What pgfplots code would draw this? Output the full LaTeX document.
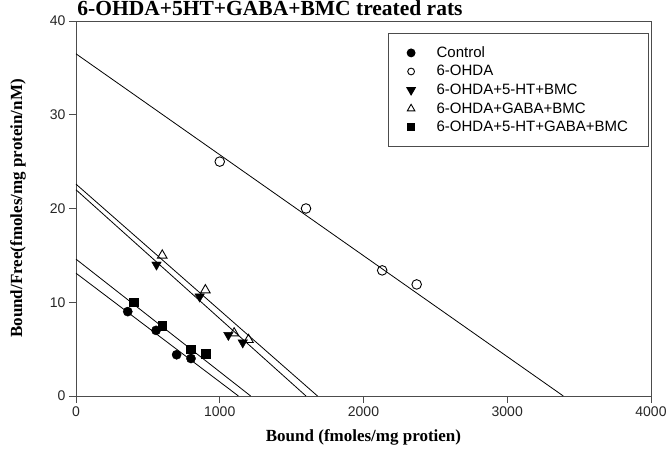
\documentclass[border=0pt]{standalone}
\usepackage{pgfplots}
\pgfplotsset{compat=1.18}
\usepackage{fontspec}
\setmainfont{Liberation Serif}
\newfontfamily\arial{Liberation Sans}
\begin{document}
\begin{tikzpicture}
\begin{axis}[
  scale only axis, width=575pt, height=375pt,
  at={(0pt,0pt)}, anchor=south west,
  xmin=0, xmax=4000, ymin=0, ymax=40,
  xtick={0,1000,2000,3000,4000}, ytick={0,10,20,30,40},
  tick align=outside, tick pos=left,
  major tick length=7pt,
  axis line style={black!70, line width=0.9pt},
  every tick/.style={black!70, line width=0.9pt},
  ticklabel style={font=\arial\fontsize{14}{16}\selectfont, text=black!85},
  /pgf/number format/assume math mode=true,
  scaled x ticks=false,
  x tick label style={/pgf/number format/1000 sep={}},
  xlabel={Bound (fmoles/mg protien)},
  ylabel={Bound/Free(fmoles/mg protein/nM)},
  label style={font=\fontsize{17}{19}\selectfont\bfseries},
  xlabel style={at={(axis description cs:0.5,0)}, anchor=center, yshift=-41pt},
  ylabel style={at={(axis description cs:-0.1009,0.5)}, anchor=center},
  legend style={at={(rel axis cs:0.9965,0.968)}, anchor=north east,
    draw=black!70, line width=1.2pt, font=\arial\fontsize{15}{17}\selectfont,
    inner xsep=18.5pt, inner ysep=10pt, row sep=0pt,
    nodes={inner ysep=0pt, inner xsep=2pt, minimum height=18.6pt},
    /tikz/every odd column/.append style={column sep=19.5pt}},
  legend cell align=left,
  clip=false,
]
\addplot[black, line width=0.8pt, forget plot] coordinates {(0,13.1) (1130,0)};
\addplot[black, line width=0.8pt, forget plot] coordinates {(0,14.6) (1215,0)};
\addplot[black, line width=0.8pt, forget plot] coordinates {(0,22.0) (1600,0)};
\addplot[black, line width=0.8pt, forget plot] coordinates {(0,22.6) (1680,0)};
\addplot[black, line width=0.8pt, forget plot] coordinates {(0,36.5) (3390,0)};

\addplot[only marks, mark=*, mark size=4.6pt, black, legend image post style={mark size=3.8pt}] coordinates {(360,9) (557,7) (700,4.4) (800,4)};
\addlegendentry{Control}
\addplot[only marks, mark=o, mark size=4.8pt, black, mark options={line width=0.9pt, fill=white}, legend image post style={mark size=3.4pt}] coordinates {(1000,25) (1600,20) (2130,13.4) (2370,11.9)};
\addlegendentry{6-OHDA}
\addplot[only marks, mark=triangle*, mark size=5.5pt, black, mark options={rotate=180}, legend image post style={mark size=4.6pt}] coordinates {(560,14) (860,10.6) (1060,6.5) (1160,5.7)};
\addlegendentry{6-OHDA+5-HT+BMC}
\addplot[only marks, mark=triangle, mark size=5.5pt, black, mark options={line width=0.9pt, fill=white}, legend image post style={mark size=4.4pt}] coordinates {(600,15) (900,11.3) (1100,6.7) (1200,6.0)};
\addlegendentry{6-OHDA+GABA+BMC}
\addplot[only marks, mark=square*, mark size=4.4pt, black, legend image post style={mark size=3.3pt}] coordinates {(400,10) (600,7.5) (800,5) (900,4.5)};
\addlegendentry{6-OHDA+5-HT+GABA+BMC}
\end{axis}
\node[anchor=base, font=\fontsize{21.5}{24}\selectfont\bfseries] at (194pt,380pt) {6-OHDA+5HT+GABA+BMC treated rats};
\pgfresetboundingbox
\useasboundingbox (-76pt,-64pt) rectangle (594pt,396pt);
\end{tikzpicture}
\end{document}
